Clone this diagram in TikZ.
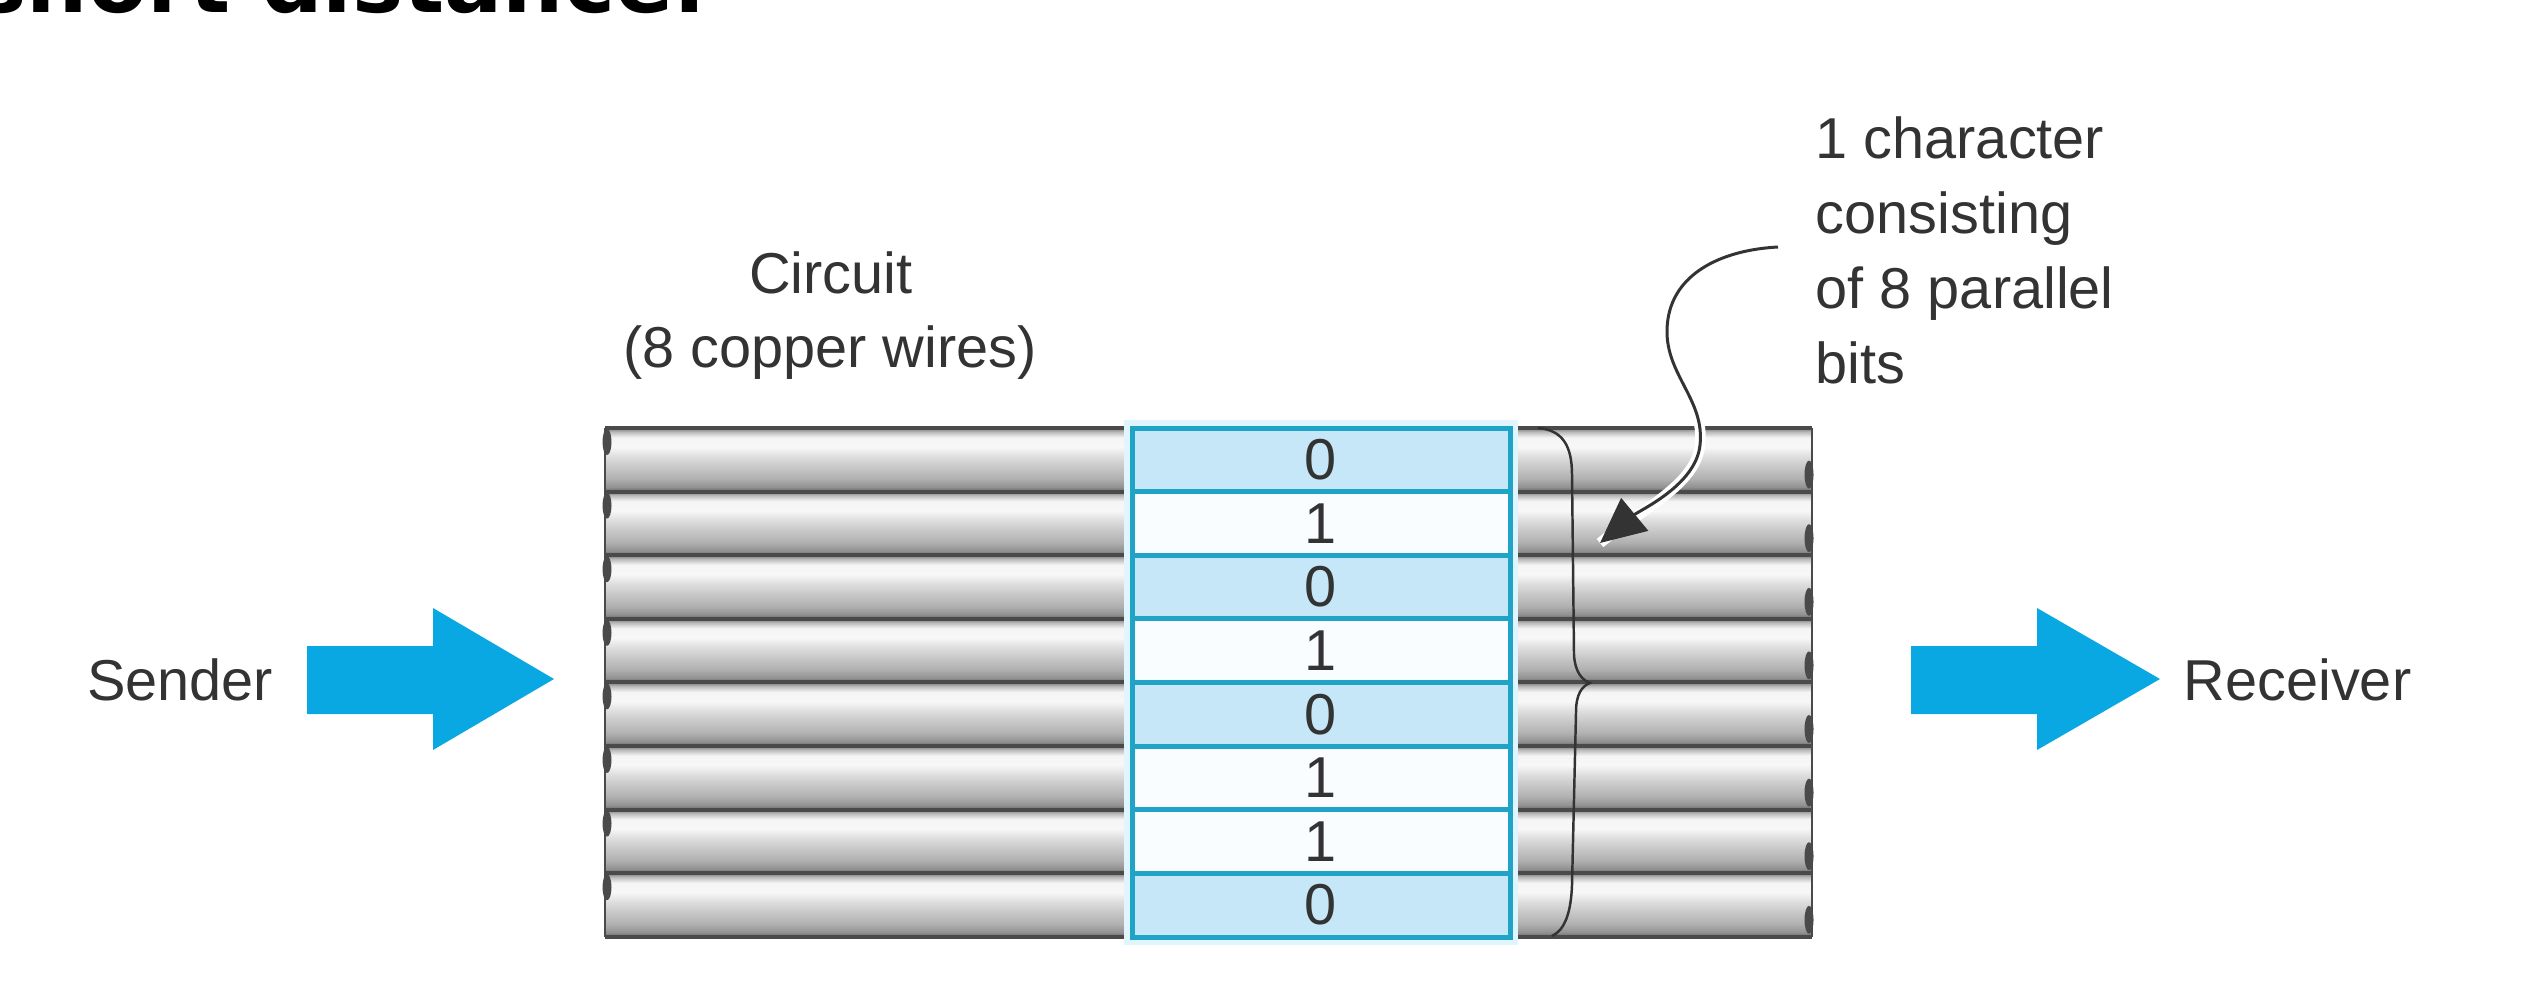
\documentclass[tikz,border=0pt]{standalone}
\usepackage{fontspec}
\setmainfont{Liberation Sans}
\newfontfamily\headfont{DejaVu Sans Bold}
\usetikzlibrary{arrows.meta}
\definecolor{txt}{HTML}{333333}
\definecolor{cyanline}{HTML}{1FA3C6}
\definecolor{bitfill0}{HTML}{C6E7F7}
\definecolor{bitfill1}{HTML}{FAFDFF}
\definecolor{arrowblue}{HTML}{0AA8E2}
\definecolor{wireline}{HTML}{4A4A4A}
\pgfdeclareverticalshading{wireshade}{100bp}{color(0bp)=(black!60); color(25bp)=(black!60); color(28.5bp)=(black!43); color(35bp)=(black!31); color(45bp)=(black!21); color(52.5bp)=(black!13); color(60bp)=(black!3); color(67.5bp)=(black!4); color(72bp)=(black!27); color(75bp)=(black!53); color(100bp)=(black!53)}
\tikzset{
  lbl/.style={font=\fontsize{16.4}{20}\selectfont, text=txt, inner sep=0pt},
  digit/.style={font=\fontsize{16.4}{20}\selectfont, text=txt, inner sep=0pt},
  blockarrow/.style={fill=arrowblue},
  bracestyle/.style={draw=txt, line width=0.7pt},
  curvearrow/.style={draw=txt, line width=0.85pt, -{Triangle[length=0.45cm,width=0.42cm]},
    preaction={draw=white, line width=3pt, arrows=-}},
}
\begin{document}
\begin{tikzpicture}[x=0.01cm, y=-0.01cm]
\useasboundingbox (0,0) rectangle (2534,1000);
\clip (0,0) rectangle (2534,1000);
\fill[white] (0,0) rectangle (2534,1000);

% cut-off heading
\node[anchor=base west, inner sep=0pt, font=\headfont\fontsize{24.5}{30}\selectfont, text=black] (head) at (-25,12) {short distance.};

% labels
\node[lbl, anchor=base] (circ) at (831,293) {Circuit};
\node[lbl, anchor=base] (circb) at (830,367) {(8 copper wires)};
\node[lbl, anchor=base west] (c1) at (1815,158) {1 character};
\node[lbl, anchor=base west] (c2) at (1815,233) {consisting};
\node[lbl, anchor=base west] (c3) at (1815,308) {of 8 parallel};
\node[lbl, anchor=base west] (c4) at (1815,383) {bits};
\node[lbl, anchor=base] (sender) at (180,700) {Sender};
\node[lbl, anchor=base west] (receiver) at (2183,700) {Receiver};

% wires
\foreach \i in {0,...,7} {
  \shade[shading=wireshade] (605,{428+63.6*\i}) rectangle (1812,{428+63.6*(\i+1)});
}
\foreach \i in {0,...,8} {
  \draw[wireline, line width=1.1pt] (605,{428+63.6*\i}) -- (1812,{428+63.6*\i});
}
\draw[wireline, line width=0.8pt] (605,428) -- (605,937);
\draw[wireline, line width=0.8pt] (1812,428) -- (1812,937);
\foreach \i in {0,...,7} {
  \fill[wireline] (607,{428+63.6*\i+14}) ellipse [x radius=0.045cm, y radius=0.13cm];
  \fill[wireline] (1809,{428+63.6*(\i+1)-17}) ellipse [x radius=0.045cm, y radius=0.14cm];
}

% bit box
\draw[cyan!12, line width=0.16cm] (1132,428) rectangle (1510,937);
\foreach \b [count=\i from 0] in {0,1,0,1,0,1,1,0} {
  \fill[bitfill\b] (1132,{428+63.6*\i}) rectangle (1510,{428+63.6*(\i+1)});
  \node[digit] (d\i) at (1321,{428+63.6*\i+31.8}) {\b};
}
\foreach \i in {1,...,7} {
  \draw[cyanline, line width=0.05cm] (1132,{428+63.6*\i}) -- (1510,{428+63.6*\i});
}
\draw[cyanline, line width=0.05cm] (1132,428) rectangle (1510,937);

% brace
\draw[bracestyle] (1538,428) .. controls (1562,430) and (1572,445) .. (1572,475)
  -- (1574,655) .. controls (1575,672) and (1582,680) .. (1590,683)
  .. controls (1582,686) and (1576,694) .. (1576,712)
  -- (1572,885) .. controls (1571,912) and (1565,930) .. (1552,936);

% curved pointer
\coordinate (cs) at (1778,247);
\coordinate (ce) at (1600,543);
\draw[curvearrow] (cs) .. controls (1720,250) and (1668,275) .. (1667,330)
  .. controls (1666,375) and (1705,400) .. (1700,445)
  .. controls (1696,485) and (1640,510) .. (ce);

% block arrows
\fill[blockarrow] (307,646) -- (433,646) -- (433,608) -- (554,679) -- (433,750) -- (433,714) -- (307,714) -- cycle;
\fill[blockarrow] (1911,646) -- (2037,646) -- (2037,608) -- (2160,679) -- (2037,750) -- (2037,714) -- (1911,714) -- cycle;
\end{tikzpicture}
\end{document}
